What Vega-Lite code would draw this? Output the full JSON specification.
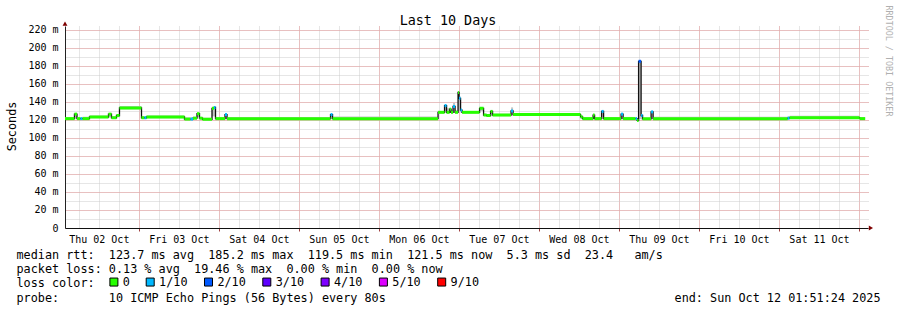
{
  "$schema": "https://vega.github.io/schema/vega-lite/v6.json",
  "background": "#ffffff",
  "autosize": {"type": "none"},
  "padding": {"left": 65, "top": 26, "right": 29, "bottom": 82},
  "width": 803,
  "height": 202,
  "data": {
    "values": [
      {"t0": "2025-10-02T01:51:24Z", "t1": "2025-10-02T04:42:00Z", "med": 121.5, "lo": 120.3, "hi": 123.0, "loss": "0"},
      {"t0": "2025-10-02T04:42:00Z", "t1": "2025-10-02T05:27:00Z", "med": 126.5, "lo": 121.5, "hi": 127.6, "loss": "0"},
      {"t0": "2025-10-02T05:27:00Z", "t1": "2025-10-02T06:30:00Z", "med": 121.5, "lo": 120.3, "hi": 122.8, "loss": "0"},
      {"t0": "2025-10-02T06:30:00Z", "t1": "2025-10-02T07:06:00Z", "med": 121.5, "lo": 120.2, "hi": 123.0, "loss": "1/10"},
      {"t0": "2025-10-02T07:06:00Z", "t1": "2025-10-02T09:12:00Z", "med": 121.5, "lo": 120.3, "hi": 123.6, "loss": "0"},
      {"t0": "2025-10-02T09:12:00Z", "t1": "2025-10-02T14:54:00Z", "med": 123.3, "lo": 122.1, "hi": 125.0, "loss": "0"},
      {"t0": "2025-10-02T14:54:00Z", "t1": "2025-10-02T15:48:00Z", "med": 126.5, "lo": 123.0, "hi": 127.5, "loss": "0"},
      {"t0": "2025-10-02T15:48:00Z", "t1": "2025-10-02T17:18:00Z", "med": 122.5, "lo": 121.2, "hi": 124.0, "loss": "0"},
      {"t0": "2025-10-02T17:18:00Z", "t1": "2025-10-02T18:12:00Z", "med": 125.0, "lo": 123.0, "hi": 126.2, "loss": "0"},
      {"t0": "2025-10-02T18:12:00Z", "t1": "2025-10-03T00:48:00Z", "med": 133.3, "lo": 132.0, "hi": 135.5, "loss": "0"},
      {"t0": "2025-10-03T00:48:00Z", "t1": "2025-10-03T01:42:00Z", "med": 122.5, "lo": 121.2, "hi": 124.0, "loss": "0"},
      {"t0": "2025-10-03T01:42:00Z", "t1": "2025-10-03T02:18:00Z", "med": 122.5, "lo": 121.0, "hi": 124.0, "loss": "1/10"},
      {"t0": "2025-10-03T02:18:00Z", "t1": "2025-10-03T13:42:00Z", "med": 123.3, "lo": 122.0, "hi": 125.0, "loss": "0"},
      {"t0": "2025-10-03T13:42:00Z", "t1": "2025-10-03T15:30:00Z", "med": 121.0, "lo": 120.0, "hi": 122.8, "loss": "0"},
      {"t0": "2025-10-03T15:30:00Z", "t1": "2025-10-03T16:15:00Z", "med": 121.0, "lo": 120.0, "hi": 123.0, "loss": "1/10"},
      {"t0": "2025-10-03T16:15:00Z", "t1": "2025-10-03T17:27:00Z", "med": 122.0, "lo": 120.8, "hi": 123.5, "loss": "0"},
      {"t0": "2025-10-03T17:27:00Z", "t1": "2025-10-03T18:12:00Z", "med": 127.0, "lo": 123.0, "hi": 128.0, "loss": "0"},
      {"t0": "2025-10-03T18:12:00Z", "t1": "2025-10-03T19:06:00Z", "med": 122.0, "lo": 120.8, "hi": 123.2, "loss": "0"},
      {"t0": "2025-10-03T19:06:00Z", "t1": "2025-10-03T21:57:00Z", "med": 120.8, "lo": 119.8, "hi": 122.5, "loss": "0"},
      {"t0": "2025-10-03T21:57:00Z", "t1": "2025-10-03T22:33:00Z", "med": 133.0, "lo": 124.0, "hi": 134.5, "loss": "0"},
      {"t0": "2025-10-03T22:33:00Z", "t1": "2025-10-03T23:00:00Z", "med": 134.0, "lo": 124.0, "hi": 135.0, "loss": "1/10"},
      {"t0": "2025-10-03T23:00:00Z", "t1": "2025-10-04T01:51:00Z", "med": 121.5, "lo": 120.3, "hi": 123.0, "loss": "0"},
      {"t0": "2025-10-04T01:51:00Z", "t1": "2025-10-04T02:27:00Z", "med": 126.0, "lo": 121.0, "hi": 127.0, "loss": "1/10"},
      {"t0": "2025-10-04T02:27:00Z", "t1": "2025-10-05T09:30:00Z", "med": 121.5, "lo": 120.4, "hi": 123.3, "loss": "0"},
      {"t0": "2025-10-05T09:30:00Z", "t1": "2025-10-05T10:06:00Z", "med": 126.0, "lo": 121.0, "hi": 127.0, "loss": "1/10"},
      {"t0": "2025-10-05T10:06:00Z", "t1": "2025-10-06T17:45:00Z", "med": 121.5, "lo": 120.4, "hi": 124.0, "loss": "0"},
      {"t0": "2025-10-06T17:45:00Z", "t1": "2025-10-06T19:42:00Z", "med": 128.5, "lo": 127.3, "hi": 130.0, "loss": "0"},
      {"t0": "2025-10-06T19:42:00Z", "t1": "2025-10-06T20:18:00Z", "med": 136.0, "lo": 129.0, "hi": 137.0, "loss": "1/10"},
      {"t0": "2025-10-06T20:18:00Z", "t1": "2025-10-06T21:12:00Z", "med": 128.5, "lo": 127.0, "hi": 133.0, "loss": "0"},
      {"t0": "2025-10-06T21:12:00Z", "t1": "2025-10-06T21:39:00Z", "med": 132.0, "lo": 128.0, "hi": 133.0, "loss": "0"},
      {"t0": "2025-10-06T21:39:00Z", "t1": "2025-10-06T22:15:00Z", "med": 128.5, "lo": 127.3, "hi": 131.0, "loss": "0"},
      {"t0": "2025-10-06T22:15:00Z", "t1": "2025-10-06T22:51:00Z", "med": 135.0, "lo": 128.0, "hi": 139.0, "loss": "1/10"},
      {"t0": "2025-10-06T22:51:00Z", "t1": "2025-10-06T23:45:00Z", "med": 128.5, "lo": 127.3, "hi": 131.0, "loss": "0"},
      {"t0": "2025-10-06T23:45:00Z", "t1": "2025-10-07T00:03:00Z", "med": 150.5, "lo": 130.0, "hi": 151.0, "loss": "0"},
      {"t0": "2025-10-07T00:03:00Z", "t1": "2025-10-07T00:30:00Z", "med": 144.0, "lo": 130.0, "hi": 146.0, "loss": "1/10"},
      {"t0": "2025-10-07T00:30:00Z", "t1": "2025-10-07T00:57:00Z", "med": 131.0, "lo": 128.0, "hi": 132.0, "loss": "1/10"},
      {"t0": "2025-10-07T00:57:00Z", "t1": "2025-10-07T06:12:00Z", "med": 128.5, "lo": 127.4, "hi": 130.0, "loss": "0"},
      {"t0": "2025-10-07T06:12:00Z", "t1": "2025-10-07T07:24:00Z", "med": 133.0, "lo": 130.0, "hi": 134.5, "loss": "0"},
      {"t0": "2025-10-07T07:24:00Z", "t1": "2025-10-07T08:18:00Z", "med": 125.5, "lo": 124.3, "hi": 127.0, "loss": "0"},
      {"t0": "2025-10-07T08:18:00Z", "t1": "2025-10-07T09:30:00Z", "med": 125.0, "lo": 123.8, "hi": 126.5, "loss": "0"},
      {"t0": "2025-10-07T09:30:00Z", "t1": "2025-10-07T10:06:00Z", "med": 129.5, "lo": 125.0, "hi": 130.5, "loss": "0"},
      {"t0": "2025-10-07T10:06:00Z", "t1": "2025-10-07T15:39:00Z", "med": 125.5, "lo": 124.3, "hi": 127.0, "loss": "0"},
      {"t0": "2025-10-07T15:39:00Z", "t1": "2025-10-07T16:15:00Z", "med": 130.0, "lo": 125.0, "hi": 134.0, "loss": "1/10"},
      {"t0": "2025-10-07T16:15:00Z", "t1": "2025-10-08T12:30:00Z", "med": 126.0, "lo": 124.8, "hi": 127.5, "loss": "0"},
      {"t0": "2025-10-08T12:30:00Z", "t1": "2025-10-08T13:06:00Z", "med": 123.5, "lo": 121.0, "hi": 125.0, "loss": "0"},
      {"t0": "2025-10-08T13:06:00Z", "t1": "2025-10-08T16:15:00Z", "med": 121.5, "lo": 119.8, "hi": 123.0, "loss": "0"},
      {"t0": "2025-10-08T16:15:00Z", "t1": "2025-10-08T16:42:00Z", "med": 125.5, "lo": 121.0, "hi": 126.5, "loss": "0"},
      {"t0": "2025-10-08T16:42:00Z", "t1": "2025-10-08T18:48:00Z", "med": 121.5, "lo": 119.8, "hi": 123.0, "loss": "0"},
      {"t0": "2025-10-08T18:48:00Z", "t1": "2025-10-08T19:24:00Z", "med": 129.5, "lo": 121.0, "hi": 130.5, "loss": "1/10"},
      {"t0": "2025-10-08T19:24:00Z", "t1": "2025-10-09T00:39:00Z", "med": 121.5, "lo": 119.8, "hi": 123.2, "loss": "0"},
      {"t0": "2025-10-09T00:39:00Z", "t1": "2025-10-09T01:15:00Z", "med": 126.5, "lo": 121.0, "hi": 127.5, "loss": "1/10"},
      {"t0": "2025-10-09T01:15:00Z", "t1": "2025-10-09T05:00:00Z", "med": 121.5, "lo": 119.8, "hi": 123.4, "loss": "0"},
      {"t0": "2025-10-09T05:00:00Z", "t1": "2025-10-09T05:27:00Z", "med": 121.5, "lo": 120.0, "hi": 123.0, "loss": "1/10"},
      {"t0": "2025-10-09T05:27:00Z", "t1": "2025-10-09T05:54:00Z", "med": 119.5, "lo": 118.5, "hi": 121.0, "loss": "0"},
      {"t0": "2025-10-09T05:54:00Z", "t1": "2025-10-09T06:39:00Z", "med": 185.2, "lo": 121.0, "hi": 186.0, "loss": "2/10"},
      {"t0": "2025-10-09T06:39:00Z", "t1": "2025-10-09T07:06:00Z", "med": 125.0, "lo": 120.5, "hi": 126.0, "loss": "1/10"},
      {"t0": "2025-10-09T07:06:00Z", "t1": "2025-10-09T09:39:00Z", "med": 121.3, "lo": 120.0, "hi": 123.0, "loss": "0"},
      {"t0": "2025-10-09T09:39:00Z", "t1": "2025-10-09T10:15:00Z", "med": 129.0, "lo": 121.0, "hi": 130.0, "loss": "1/10"},
      {"t0": "2025-10-09T10:15:00Z", "t1": "2025-10-11T02:36:00Z", "med": 121.5, "lo": 120.3, "hi": 123.5, "loss": "0"},
      {"t0": "2025-10-11T02:36:00Z", "t1": "2025-10-11T03:12:00Z", "med": 122.0, "lo": 120.8, "hi": 124.0, "loss": "1/10"},
      {"t0": "2025-10-11T03:12:00Z", "t1": "2025-10-12T00:12:00Z", "med": 122.5, "lo": 121.4, "hi": 124.8, "loss": "0"},
      {"t0": "2025-10-12T00:12:00Z", "t1": "2025-10-12T01:51:24Z", "med": 121.5, "lo": 120.4, "hi": 123.0, "loss": "0"}
    ]
  },
  "layer": [
    {
      "mark": {"type": "rect", "color": "#c4c4c4"},
      "encoding": {
        "x": {"field": "t0", "type": "temporal",
          "scale": {"type": "utc", "domain": [{"year": 2025, "month": 10, "date": 2, "hours": 1, "minutes": 51, "seconds": 24, "utc": true}, {"year": 2025, "month": 10, "date": 12, "hours": 2, "minutes": 42, "seconds": 24, "utc": true}]},
          "axis": {"orient": "bottom", "tickCount": 40, "grid": true, "gridColor": "#cccccc", "gridDash": [1, 1], "domain": false, "ticks": false, "labels": false, "title": null}},
        "x2": {"field": "t1"},
        "y": {"field": "lo", "type": "quantitative",
          "scale": {"domain": [0, 224.4], "nice": false, "zero": false},
          "axis": {"orient": "left", "values": [0, 10, 20, 30, 40, 50, 60, 70, 80, 90, 100, 110, 120, 130, 140, 150, 160, 170, 180, 190, 200, 210, 220], "grid": true, "gridColor": "#cccccc", "gridDash": [1, 1], "domain": false, "ticks": false, "labels": false, "title": null}},
        "y2": {"field": "hi"}
      }
    },
    {
      "mark": {"type": "line", "interpolate": "step-after", "color": "#111111", "strokeWidth": 1.3},
      "encoding": {
        "x": {"field": "t0", "type": "temporal",
          "scale": {"type": "utc", "domain": [{"year": 2025, "month": 10, "date": 2, "hours": 1, "minutes": 51, "seconds": 24, "utc": true}, {"year": 2025, "month": 10, "date": 12, "hours": 2, "minutes": 42, "seconds": 24, "utc": true}]},
          "axis": {"orient": "bottom", "tickCount": 10, "grid": true, "gridColor": "#eb9a9a", "gridDash": [1, 1], "domain": false, "ticks": true, "tickColor": "#a04040", "tickSize": 3, "labels": false, "title": null}},
        "y": {"field": "med", "type": "quantitative",
          "scale": {"domain": [0, 224.4], "nice": false, "zero": false},
          "axis": {"orient": "left", "values": [0, 20, 40, 60, 80, 100, 120, 140, 160, 180, 200, 220], "grid": true, "gridColor": "#eb9a9a", "gridDash": [1, 1], "domain": true, "domainColor": "#222222", "ticks": false, "tickSize": 0, "labelPadding": 7, "labelFont": "DejaVu Sans Mono", "labelFontSize": 10, "labelColor": "#000000", "labelAlign": "right", "labelBaseline": "middle", "labelExpr": "datum.value === 0 ? '0  ' : datum.value + ' m'",
            "title": "Seconds", "titleFont": "DejaVu Sans Mono", "titleFontSize": 11.8, "titleFontWeight": "normal", "titleColor": "#000000", "titleAngle": -90, "titleX": -50, "titleY": 100, "titleAlign": "center", "titleBaseline": "alphabetic"}}
      }
    },
    {
      "mark": {"type": "rule", "strokeWidth": 3},
      "encoding": {
        "x": {"field": "t0", "type": "temporal",
          "scale": {"type": "utc", "domain": [{"year": 2025, "month": 10, "date": 2, "hours": 1, "minutes": 51, "seconds": 24, "utc": true}, {"year": 2025, "month": 10, "date": 12, "hours": 2, "minutes": 42, "seconds": 24, "utc": true}]},
          "axis": {"orient": "bottom",
            "values": [
              {"year": 2025, "month": 10, "date": 2, "hours": 12, "utc": true},
              {"year": 2025, "month": 10, "date": 3, "hours": 12, "utc": true},
              {"year": 2025, "month": 10, "date": 4, "hours": 12, "utc": true},
              {"year": 2025, "month": 10, "date": 5, "hours": 12, "utc": true},
              {"year": 2025, "month": 10, "date": 6, "hours": 12, "utc": true},
              {"year": 2025, "month": 10, "date": 7, "hours": 12, "utc": true},
              {"year": 2025, "month": 10, "date": 8, "hours": 12, "utc": true},
              {"year": 2025, "month": 10, "date": 9, "hours": 12, "utc": true},
              {"year": 2025, "month": 10, "date": 10, "hours": 12, "utc": true},
              {"year": 2025, "month": 10, "date": 11, "hours": 12, "utc": true}
            ],
            "format": "%a %d %b", "grid": false, "ticks": false, "tickSize": 0, "domain": true, "domainColor": "#111111", "labelFont": "DejaVu Sans Mono", "labelFontSize": 10, "labelColor": "#000000", "labelBaseline": "alphabetic", "labelAlign": "center", "labelPadding": 14, "labelOverlap": false, "labelFlush": false,
            "title": [
              "median rtt: \u00a0123.7 ms avg \u00a0185.2 ms max \u00a0119.5 ms min \u00a0121.5 ms now \u00a05.3 ms sd \u00a023.4 \u00a0\u00a0am/s",
              "packet loss: 0.13 % avg \u00a019.46 % max \u00a00.00 % min \u00a00.00 % now",
              "loss color:",
              "probe: \u00a0\u00a0\u00a0\u00a0\u00a0\u00a010 ICMP Echo Pings (56 Bytes) every 80s"
            ],
            "titleFont": "DejaVu Sans Mono", "titleFontSize": 11.8, "titleFontWeight": "normal", "titleColor": "#000000", "titleLineHeight": 14.2, "titleX": -49, "titleY": 30.5, "titleAlign": "left", "titleAnchor": "start", "titleBaseline": "alphabetic", "titleAngle": 0}},
        "x2": {"field": "t1"},
        "y": {"field": "med", "type": "quantitative",
          "scale": {"domain": [0, 224.4], "nice": false, "zero": false},
          "axis": {"orient": "right", "domain": false, "ticks": false, "labels": false, "grid": false,
            "title": "RRDTOOL / TOBI OETIKER", "titleFont": "DejaVu Sans Mono", "titleFontSize": 8.4, "titleFontWeight": "normal", "titleColor": "#b0b0b0", "titleAngle": 90, "titleX": 17, "titleY": -21, "titleAlign": "left", "titleBaseline": "alphabetic"}},
        "stroke": {"field": "loss", "type": "nominal",
          "scale": {"domain": ["0", "1/10", "2/10"], "range": ["#26ff00", "#00b8ff", "#0059ff"]},
          "legend": null}
      }
    },
    {
      "mark": {"type": "square", "size": 0},
      "encoding": {
        "x": {"field": "t0", "type": "temporal",
          "scale": {"type": "utc", "domain": [{"year": 2025, "month": 10, "date": 2, "hours": 1, "minutes": 51, "seconds": 24, "utc": true}, {"year": 2025, "month": 10, "date": 12, "hours": 2, "minutes": 42, "seconds": 24, "utc": true}]},
          "axis": null},
        "y": {"field": "med", "type": "quantitative", "scale": {"domain": [0, 224.4], "nice": false, "zero": false}, "axis": null},
        "fill": {"field": "loss", "type": "nominal",
          "scale": {"domain": ["0", "1/10", "2/10", "3/10", "4/10", "5/10", "9/10"], "range": ["#26ff00", "#00b8ff", "#0059ff", "#5e00ff", "#7e00ff", "#dd00ff", "#ff0000"]},
          "legend": {"orient": "none", "legendX": 43, "legendY": 250, "direction": "horizontal", "title": null, "padding": 0, "symbolType": "square", "symbolSize": 64, "symbolStrokeColor": "#000000", "symbolStrokeWidth": 1, "symbolOpacity": 1, "symbolFillOpacity": 1, "labelFont": "DejaVu Sans Mono", "labelFontSize": 11.8, "labelColor": "#000000", "labelOffset": 3, "columnPadding": 13.3}}
      }
    },
    {
      "data": {"values": [{"t": "2025-10-02T01:51:24Z", "v": 227}]},
      "mark": {"type": "point", "shape": "triangle-up", "filled": true, "color": "#7f0000", "size": 24, "opacity": 1},
      "encoding": {
        "x": {"field": "t", "type": "temporal",
          "scale": {"type": "utc", "domain": [{"year": 2025, "month": 10, "date": 2, "hours": 1, "minutes": 51, "seconds": 24, "utc": true}, {"year": 2025, "month": 10, "date": 12, "hours": 2, "minutes": 42, "seconds": 24, "utc": true}]},
          "axis": {"orient": "top", "domain": false, "ticks": false, "labels": false, "grid": false,
            "title": "Last 10 Days", "titleFont": "DejaVu Sans Mono", "titleFontSize": 13.4, "titleFontWeight": "normal", "titleColor": "#000000", "titleX": 382.5, "titleY": -2, "titleAlign": "center", "titleAnchor": "middle", "titleBaseline": "alphabetic", "titleAngle": 0}},
        "y": {"field": "v", "type": "quantitative", "scale": {"domain": [0, 224.4], "nice": false, "zero": false}, "axis": null}
      }
    },
    {
      "data": {"values": [{"t": "2025-10-12T03:35:00Z", "v": 0}]},
      "mark": {"type": "point", "shape": "triangle-right", "filled": true, "color": "#7f0000", "size": 24, "opacity": 1},
      "encoding": {
        "x": {"field": "t", "type": "temporal",
          "scale": {"type": "utc", "domain": [{"year": 2025, "month": 10, "date": 2, "hours": 1, "minutes": 51, "seconds": 24, "utc": true}, {"year": 2025, "month": 10, "date": 12, "hours": 2, "minutes": 42, "seconds": 24, "utc": true}]},
          "axis": {"orient": "top", "domain": false, "ticks": false, "labels": false, "grid": false,
            "title": "end: Sun Oct 12 01:51:24 2025", "titleFont": "DejaVu Sans Mono", "titleFontSize": 11.8, "titleFontWeight": "normal", "titleColor": "#000000", "titleX": 815, "titleY": 275, "titleAlign": "right", "titleAnchor": "end", "titleBaseline": "alphabetic", "titleAngle": 0}},
        "y": {"field": "v", "type": "quantitative", "scale": {"domain": [0, 224.4], "nice": false, "zero": false}, "axis": null}
      }
    }
  ],
  "resolve": {"axis": {"x": "independent", "y": "independent"}},
  "config": {
    "view": {"stroke": null},
    "font": "DejaVu Sans Mono",
    "axis": {"labelFont": "DejaVu Sans Mono", "titleFont": "DejaVu Sans Mono", "titleFontWeight": "normal"}
  }
}
